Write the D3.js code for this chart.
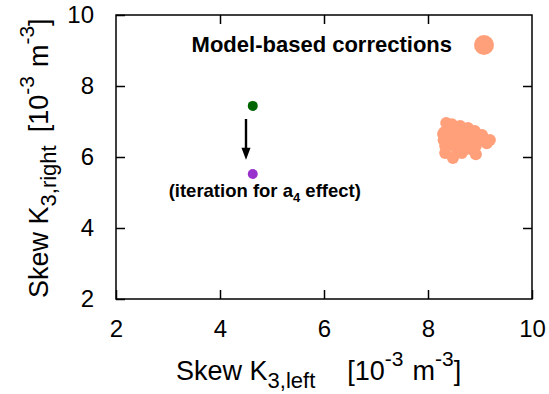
<!DOCTYPE html>
<html>
<head>
<meta charset="utf-8">
<script src="https://cdn.jsdelivr.net/npm/d3@7"></script>
<style>
  html, body { margin: 0; padding: 0; background: #fff; }
  svg { display: block; font-family: "Liberation Sans", Arial, sans-serif; }
</style>
</head>
<body>
<svg id="chart" width="549" height="394"></svg>
<script>
// Axis ticks
const xTicks = [2, 4, 6, 8, 10];
const yTicks = [2, 4, 6, 8, 10];

// Model-based corrections (skew left, skew right) in 10^-3 m^-3
const corrLeft  = [8.35, 8.46, 8.62, 8.77, 8.90, 9.04, 9.19, 9.13, 8.31, 8.40, 8.54, 8.69, 8.85, 8.96,
                   8.30, 8.39, 8.52, 8.67, 8.81, 8.92, 8.33, 8.46, 8.62, 8.75, 8.33, 8.48, 8.92, 8.87, 8.56, 8.65, 8.29];
const corrRight = [6.96, 6.92, 6.87, 6.82, 6.73, 6.62, 6.48, 6.39, 6.70, 6.76, 6.70, 6.65, 6.59, 6.48,
                   6.48, 6.54, 6.48, 6.45, 6.39, 6.31, 6.31, 6.34, 6.28, 6.23, 6.11, 5.97, 6.08, 6.20, 6.17, 6.11, 6.65];

// Single-point iteration: before and after the a4 effect
const iterLeft  = [4.63, 4.63];
const iterRight = [7.44, 5.52];
const iterColors = ["#006400", "#9932cc"];

// Arrow between the two iteration points
const arrowX = 4.5, arrowFrom = 7.07, arrowTo = 5.92;

const svg = d3.select("#chart");
const plotL = 116, plotR = 532, plotT = 15, plotB = 299;

const x = d3.scaleLinear().domain([2, 10]).range([plotL, plotR]);
const y = d3.scaleLinear().domain([2, 10]).range([plotB, plotT]);

// Frame
svg.append("rect")
  .attr("x", plotL).attr("y", plotT)
  .attr("width", plotR - plotL).attr("height", plotB - plotT)
  .attr("fill", "none").attr("stroke", "#000").attr("stroke-width", 1.5);

const tickLen = 9;
// Bottom/left axes with inward ticks, mirrored on top/right
const xAxis = svg.append("g").attr("transform", `translate(0,${plotB})`)
  .call(d3.axisBottom(x).tickValues(xTicks).tickSize(-tickLen).tickPadding(21).tickFormat(d3.format("d")));
const xTop = svg.append("g").attr("transform", `translate(0,${plotT})`)
  .call(d3.axisTop(x).tickValues(xTicks.slice(1, -1)).tickSize(-tickLen).tickFormat(""));
const yAxis = svg.append("g").attr("transform", `translate(${plotL},0)`)
  .call(d3.axisLeft(y).tickValues(yTicks).tickSize(-tickLen).tickPadding(22).tickFormat(d3.format("d")));
const yRight = svg.append("g").attr("transform", `translate(${plotR},0)`)
  .call(d3.axisRight(y).tickValues(yTicks.slice(1, -1)).tickSize(-tickLen).tickFormat(""));

[xAxis, xTop, yAxis, yRight].forEach(g => {
  g.select(".domain").remove();
  g.selectAll(".tick line").attr("stroke", "#000").attr("stroke-width", 1.5);
  g.selectAll(".tick text").attr("font-size", 24).attr("fill", "#000")
    .attr("font-family", "Liberation Sans, Arial, sans-serif");
});

// Axis titles with sub/superscripts
function axisTitle(text, sub, gap) {
  text.attr("font-size", 27).attr("fill", "#000");
  text.append("tspan").text("Skew K");
  text.append("tspan").attr("font-size", 22).attr("dy", 8).text(sub);
  text.append("tspan").attr("dy", -8).attr("dx", gap).text("[10");
  text.append("tspan").attr("font-size", 21).attr("dy", -14).text("-3");
  text.append("tspan").attr("dy", 14).attr("dx", 9).text("m");
  text.append("tspan").attr("font-size", 21).attr("dy", -14).text("-3");
  text.append("tspan").attr("dy", 14).text("]");
  return text;
}
axisTitle(svg.append("text").attr("x", 176).attr("y", 380), "3,left", 32);
axisTitle(svg.append("text").attr("transform", "translate(48,298) rotate(-90)"), "3,right", 13);

// Model-based corrections
svg.append("g").selectAll("circle")
  .data(corrLeft.map((v, i) => [v, corrRight[i]]))
  .join("circle")
  .attr("cx", d => x(d[0])).attr("cy", d => y(d[1]))
  .attr("r", 6).attr("fill", "#ffa07a");

// Iteration points
svg.append("g").selectAll("circle")
  .data(iterLeft.map((v, i) => [v, iterRight[i], iterColors[i]]))
  .join("circle")
  .attr("cx", d => x(d[0])).attr("cy", d => y(d[1]))
  .attr("r", 5).attr("fill", d => d[2]);

// Arrow
const ax = x(arrowX), ay0 = y(arrowFrom), ay1 = y(arrowTo);
svg.append("line")
  .attr("x1", ax).attr("x2", ax).attr("y1", ay0).attr("y2", ay1 - 10)
  .attr("stroke", "#000").attr("stroke-width", 2.4);
svg.append("path")
  .attr("d", `M${ax - 4.5},${ay1 - 12} L${ax + 4.5},${ay1 - 12} L${ax},${ay1} Z`)
  .attr("fill", "#000");

// Annotation
const ann = svg.append("text")
  .attr("x", x(iterLeft[1]) + 12).attr("y", y(iterRight[1]) + 23)
  .attr("text-anchor", "middle").attr("font-size", 18.5).attr("font-weight", "bold").attr("fill", "#000");
ann.append("tspan").text("(iteration for a");
ann.append("tspan").attr("font-size", 13).attr("dy", 5).text("4");
ann.append("tspan").attr("dy", -5).text(" effect)");

// Legend
svg.append("text")
  .attr("x", 452).attr("y", 52)
  .attr("text-anchor", "end").attr("font-size", 22).attr("font-weight", "bold").attr("fill", "#000")
  .text("Model-based corrections");
svg.append("circle").attr("cx", 484).attr("cy", 45).attr("r", 10).attr("fill", "#ffa07a");
</script>
</body>
</html>
